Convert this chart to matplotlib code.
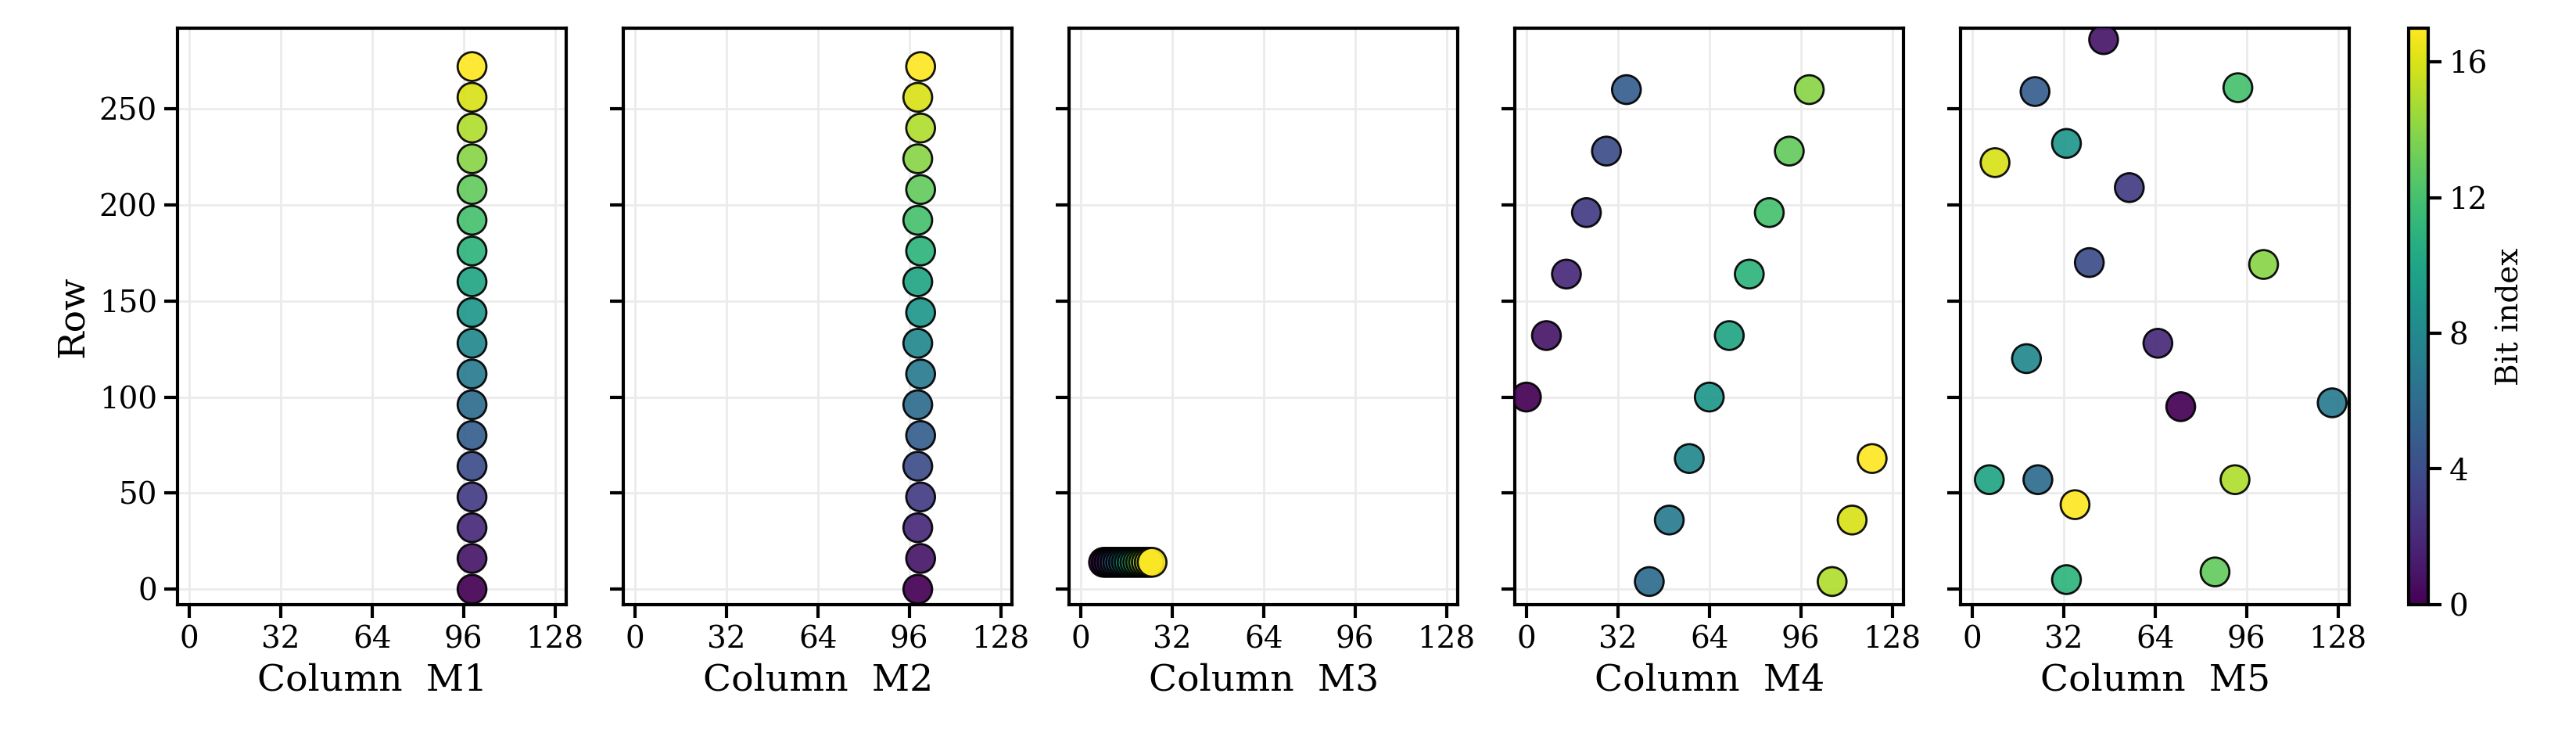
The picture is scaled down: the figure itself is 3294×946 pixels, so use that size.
import matplotlib
matplotlib.use("Agg")
import matplotlib.pyplot as plt
import numpy as np

plt.rcParams["font.family"] = "DejaVu Serif"

bits = list(range(18))
panel_names = ["M1", "M2", "M3", "M4", "M5"]

m1_col = [99] * 18
m1_row = [0, 16, 32, 48, 64, 80, 96, 112, 128, 144, 160, 176, 192, 208, 224, 240, 256, 272]

m2_col = [99, 100, 99, 100, 99, 100, 99, 100, 99, 100, 99, 100, 99, 100, 99, 100, 99, 100]
m2_row = [0, 16, 32, 48, 64, 80, 96, 112, 128, 144, 160, 176, 192, 208, 224, 240, 256, 272]

m3_col = [8, 9, 10, 11, 12, 13, 14, 15, 16, 17, 18, 19, 20, 21, 22, 23, 24, 25]
m3_row = [14] * 18

m4_col = [0, 7, 14, 21, 28, 35, 43, 50, 57, 64, 71, 78, 85, 92, 99, 107, 114, 121]
m4_row = [100, 132, 164, 196, 228, 260, 4, 36, 68, 100, 132, 164, 196, 228, 260, 4, 36, 68]

m5_col = [73, 46, 65, 55, 41, 22, 23, 126, 19, 33, 6, 33, 93, 85, 102, 92, 8, 36]
m5_row = [95, 286, 128, 209, 170, 259, 57, 97, 120, 232, 57, 5, 261, 9, 169, 57, 222, 44]

cols = [m1_col, m2_col, m3_col, m4_col, m5_col]
rows = [m1_row, m2_row, m3_row, m4_row, m5_row]

fig = plt.figure(figsize=(16.47, 4.73), dpi=200)
left, right, bottom, top = 0.069, 0.912, 0.183, 0.962
gap = 0.0222
w = (right - left - 4 * gap) / 5

for i, name in enumerate(panel_names):
    ax = fig.add_axes([left + i * (w + gap), bottom, w, top - bottom])
    sc = ax.scatter(cols[i], rows[i], c=bits, cmap="viridis", vmin=0, vmax=17,
                    s=175, edgecolors="black", linewidths=1.0, alpha=0.92, zorder=3)
    ax.set_xlim(-4, 132)
    ax.set_ylim(-8, 292)
    ax.set_xticks([0, 32, 64, 96, 128])
    ax.set_yticks([0, 50, 100, 150, 200, 250])
    ax.grid(True, color="0.92", linewidth=1.0)
    ax.tick_params(labelsize=14, length=6, width=1.5)
    for s in ax.spines.values():
        s.set_linewidth(1.5)
    ax.set_xlabel(f"Column  {name}", fontsize=17)
    if i == 0:
        ax.set_ylabel("Row", fontsize=17)
    else:
        ax.tick_params(labelleft=False)

cax = fig.add_axes([0.935, bottom, 0.0076, top - bottom])
cb = fig.colorbar(sc, cax=cax, ticks=[0, 4, 8, 12, 16])
cb.solids.set_alpha(1)
cb.set_label("Bit index", fontsize=14)
cb.ax.tick_params(labelsize=14, length=6, width=1.5)
cb.outline.set_linewidth(1.5)

fig.savefig("out.png", dpi=200)
